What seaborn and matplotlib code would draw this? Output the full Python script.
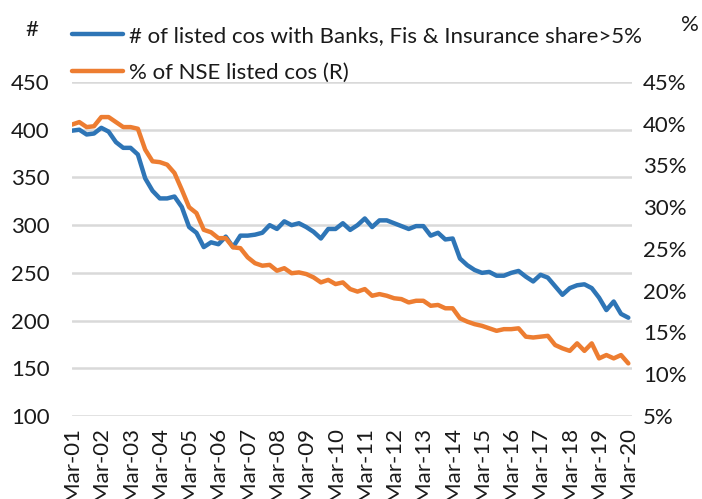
import matplotlib
matplotlib.use("Agg")
import matplotlib.pyplot as plt
from matplotlib.ticker import FuncFormatter
import numpy as np
import pandas as pd
import seaborn as sns

# Quarterly series, Mar-01 .. Mar-20 (77 quarters)
listed_cos = [
    399, 400, 395, 396, 402, 398, 387, 381, 381, 374,
    349, 336, 328, 328, 330, 319, 298, 292, 277, 282,
    280, 288, 277, 289, 289, 290, 292, 300, 296, 304,
    300, 302, 298, 293, 286, 296, 296, 302, 295, 300,
    307, 298, 305, 305, 302, 299, 296, 299, 299, 289,
    292, 285, 286, 265, 258, 253, 250, 251, 247, 247,
    250, 252, 246, 241, 248, 245, 236, 227, 234, 237,
    238, 234, 224, 211, 220, 207, 203,
]
pct_nse = [
    39.9, 40.2, 39.6, 39.7, 40.8, 40.8, 40.2, 39.6, 39.6, 39.4,
    36.9, 35.5, 35.4, 35.1, 34.1, 32.1, 30.0, 29.3, 27.3, 27.0,
    26.3, 26.3, 25.2, 25.1, 24.0, 23.3, 23.0, 23.1, 22.4, 22.7,
    22.1, 22.2, 22.0, 21.6, 21.0, 21.3, 20.8, 21.0, 20.2, 19.9,
    20.2, 19.4, 19.6, 19.4, 19.1, 19.0, 18.6, 18.8, 18.8, 18.2,
    18.3, 17.9, 17.9, 16.7, 16.3, 16.0, 15.8, 15.5, 15.2, 15.4,
    15.4, 15.5, 14.5, 14.4, 14.5, 14.6, 13.5, 13.1, 12.8, 13.7,
    12.8, 13.7, 11.9, 12.3, 11.9, 12.3, 11.3,
]
tick_labels = [f"Mar-{y:02d}" for y in range(1, 21)]

label_count = "# of listed cos with Banks, Fis & Insurance share>5%"
label_pct = "% of NSE listed cos (R)"

df = pd.DataFrame({
    "q": np.arange(len(listed_cos)),
    "count": listed_cos,
    "pct": pct_nse,
})

sns.set_style("white")
plt.rcParams["font.family"] = ["Lato", "DejaVu Sans"]

BLUE = "#2E75B6"
ORANGE = "#ED7D31"
GRID = "#D9D9D9"
TXT = "#1A1A1A"
FS = 16

fig = plt.figure(figsize=(7.02, 4.99), dpi=100)
ax = fig.add_axes([72 / 702, 83 / 499, 560 / 702, 334 / 499])
ax2 = ax.twinx()

sns.lineplot(data=df, x="q", y="count", ax=ax, color=BLUE, lw=3.2,
             label=label_count, legend=False)
sns.lineplot(data=df, x="q", y="pct", ax=ax2, color=ORANGE, lw=3.2,
             label=label_pct, legend=False)

ax.set_xlim(0, 76.5)
ax.set_ylim(100, 450)
ax.set_yticks(np.arange(100, 451, 50))
ax2.set_ylim(5, 45)
ax2.set_yticks(np.arange(5, 46, 5))
ax2.yaxis.set_major_formatter(FuncFormatter(lambda v, p: f"{v:.0f}%"))

ax.set_xticks(np.arange(0, 77, 4))
ax.set_xticklabels(tick_labels, rotation=90, fontsize=FS, color=TXT)
ax.set_xlabel("")
ax.set_ylabel("")
ax2.set_ylabel("")

ax.yaxis.grid(True, color=GRID, lw=1.8)
ax.set_axisbelow(True)
for a in (ax, ax2):
    for s in a.spines.values():
        s.set_visible(False)
    a.tick_params(length=0, labelsize=FS, colors=TXT)
ax.tick_params(axis="y", pad=16)
ax.tick_params(axis="x", pad=8)
ax2.tick_params(axis="y", pad=8)

fig.text(25 / 702, 1 - 30 / 499, "#", fontsize=FS, color=TXT, ha="left", va="center")
fig.text(681 / 702, 1 - 25 / 499, "%", fontsize=FS, color=TXT, ha="left", va="center")

h1, l1 = ax.get_legend_handles_labels()
h2, l2 = ax2.get_legend_handles_labels()
leg = ax.legend(h1 + h2, l1 + l2, loc="upper left",
                bbox_to_anchor=(72 / 702, 1 - 26 / 499), bbox_transform=fig.transFigure,
                frameon=False, fontsize=FS, handlelength=2.3, handletextpad=0.25,
                labelspacing=0.75, borderpad=0, borderaxespad=0)
for t in leg.get_texts():
    t.set_color(TXT)

fig.savefig("out.png", dpi=100)
